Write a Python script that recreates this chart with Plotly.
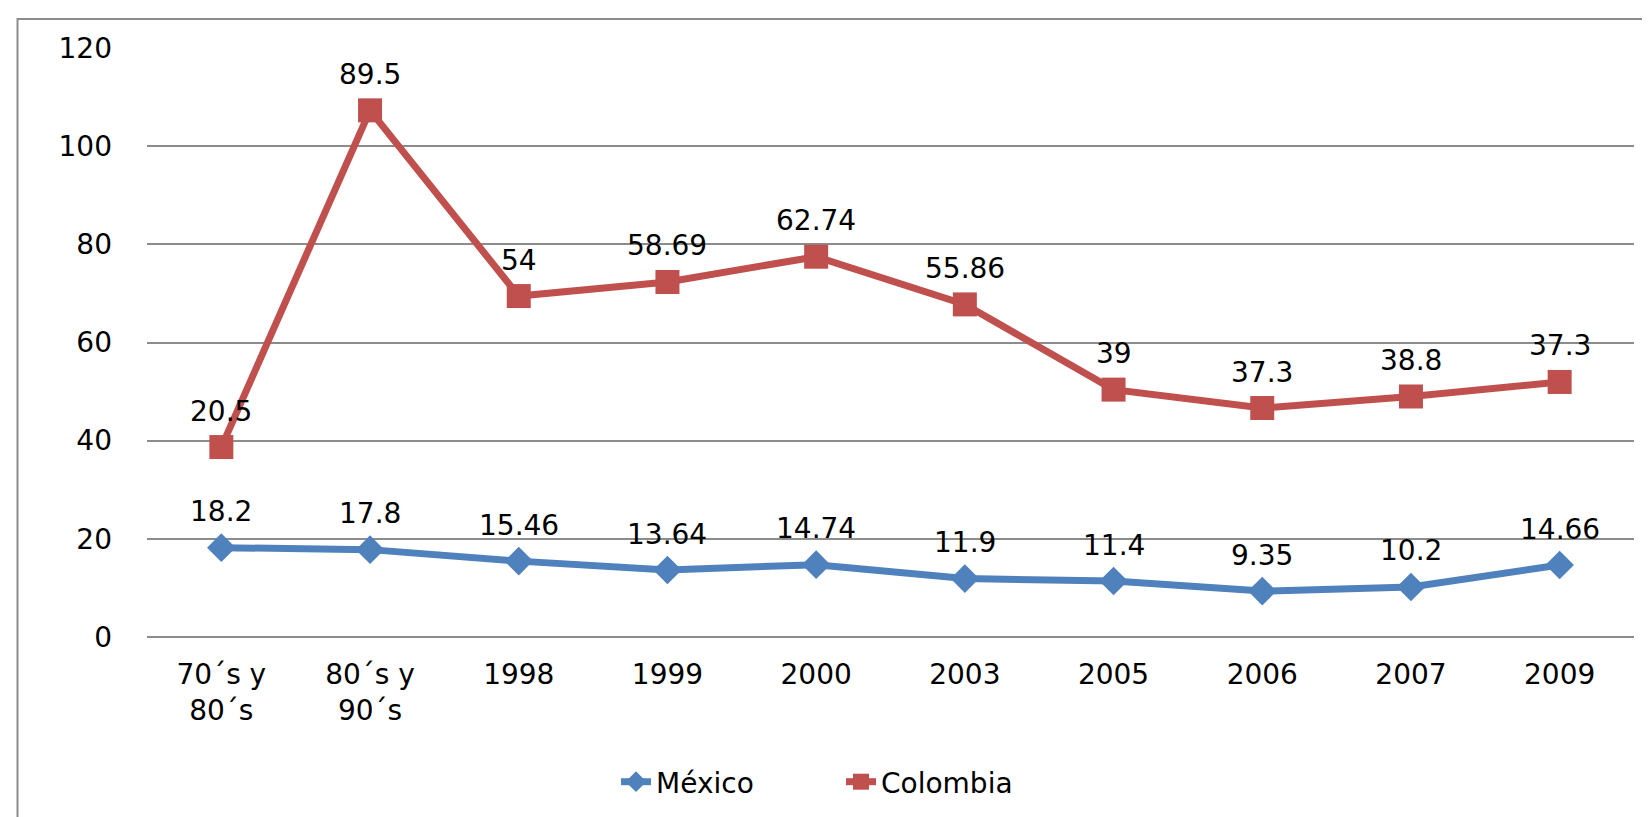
import numpy as np
import plotly.graph_objects as go

categories = ["70´s y<br>80´s", "80´s y<br>90´s", "1998", "1999", "2000", "2003", "2005", "2006", "2007", "2009"]
mexico = [18.2, 17.8, 15.46, 13.64, 14.74, 11.9, 11.4, 9.35, 10.2, 14.66]
colombia = [20.5, 89.5, 54, 58.69, 62.74, 55.86, 39, 37.3, 38.8, 37.3]
mexico_labels = ["18.2", "17.8", "15.46", "13.64", "14.74", "11.9", "11.4", "9.35", "10.2", "14.66"]
colombia_labels = ["20.5", "89.5", "54", "58.69", "62.74", "55.86", "39", "37.3", "38.8", "37.3"]

BLUE = "#4F81BD"
RED = "#C0504D"
GRID = "#8C8C8C"
FONT = "DejaVu Sans"
FS = 28

W, H = 1650, 817
L, R, T, B = 139, 24, 40, 188

fig = go.Figure()
fig.add_trace(go.Scatter(
    x=categories, y=mexico, name="México", mode="lines+markers",
    stackgroup="one", fill="none",
    line=dict(color=BLUE, width=7),
    marker=dict(symbol="diamond", size=22, color=BLUE),
))
fig.add_trace(go.Scatter(
    x=categories, y=colombia, name="Colombia", mode="lines+markers",
    stackgroup="one", fill="none",
    line=dict(color=RED, width=7),
    marker=dict(symbol="square", size=24, color=RED),
))

stacked_col = np.array(mexico) + np.array(colombia)
for i, (yv, lab) in enumerate(zip(mexico, mexico_labels)):
    fig.add_annotation(x=i, y=yv, text=lab, showarrow=False, yshift=36,
                       font=dict(family=FONT, size=FS, color="#000000"))
for i, (yv, lab) in enumerate(zip(stacked_col, colombia_labels)):
    fig.add_annotation(x=i, y=float(yv), text=lab, showarrow=False, yshift=36,
                       font=dict(family=FONT, size=FS, color="#000000"))

pw = W - L - R
ph = H - T - B
fig.add_shape(type="rect", xref="paper", yref="paper",
              x0=(9.5 - L) / pw, x1=(W + 20 - L) / pw,
              y0=(H - B - (H + 20)) / ph, y1=(H - B - 11) / ph,
              line=dict(color=GRID, width=2), fillcolor="rgba(0,0,0,0)", layer="below")

fig.update_layout(
    width=W, height=H,
    margin=dict(l=L, r=R, t=T, b=B),
    paper_bgcolor="white", plot_bgcolor="white",
    font=dict(family=FONT, size=FS, color="#000000"),
    showlegend=True,
    legend=dict(orientation="h", x=(608 - L) / pw, xanchor="left",
                y=(H - B - 774) / ph, yanchor="middle",
                font=dict(family=FONT, size=FS),
                entrywidth=180, entrywidthmode="pixels",
                traceorder="normal"),
    xaxis=dict(type="category", showgrid=False, showline=False, zeroline=False, ticks="",
               ticklabelstandoff=18, tickfont=dict(family=FONT, size=FS),
               range=[-0.5, len(categories) - 0.5]),
    yaxis=dict(range=[0, 120], dtick=20, showgrid=True, gridcolor=GRID, gridwidth=2,
               zeroline=True, zerolinecolor=GRID, zerolinewidth=2,
               showline=False, ticks="", ticklabelstandoff=34,
               tickfont=dict(family=FONT, size=FS)),
)

fig.write_html("out.html")
